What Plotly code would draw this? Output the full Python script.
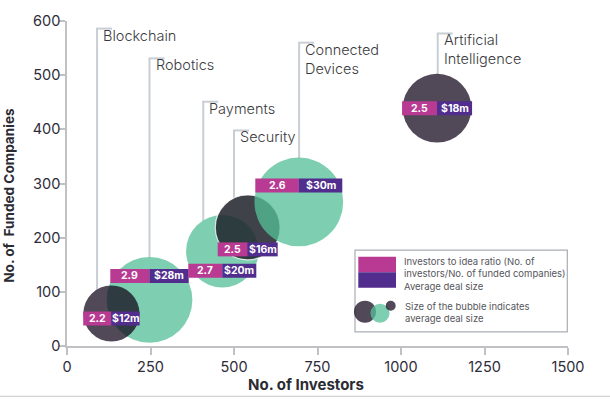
import math
import plotly.graph_objects as go

# ---------------- data ----------------
sectors = ["Blockchain", "Robotics", "Payments", "Security",
           "Connected Devices", "Artificial Intelligence"]
sector_labels = ["Blockchain", "Robotics", "Payments", "Security",
                 "Connected<br>Devices", "Artificial<br>Intelligence"]
investors = [133, 247, 465, 541, 694, 1108]          # No. of investors
funded_companies = [60, 85, 175, 219, 266, 439]      # No. of funded companies
investor_ratio = ["2.2", "2.9", "2.7", "2.5", "2.6", "2.5"]
deal_size = [12, 28, 20, 16, 30, 18]                 # average deal size, $m
x_ticks = [0, 250, 500, 750, 1000, 1250, 1500]
y_ticks = [0, 100, 200, 300, 400, 500, 600]

# ---------------- styling / layout ----------------
W, H = 610, 399
L, T = 67, 15
PW, PH = 501, 331
R, B = W - L - PW, H - T - PH
X_MAX, Y_MAX = 1500, 600
SIZEREF = 0.00762

FONT = "Inter"
DARK = "rgba(17,6,25,0.73)"
SLATE = "rgba(31,36,43,0.86)"
GREEN = "rgba(85,192,153,0.76)"
MAGENTA = "#b93a92"
PURPLE = "#512d8e"
LEADER = "#c9ced5"
AXIS = "#bfc1c5"

bubble_color = [DARK, GREEN, GREEN, SLATE, GREEN, DARK]
bubble_line_w = [0, 0, 0, 1.2, 0, 0]
draw_order = [1, 0, 2, 3, 4, 5]

label_x = [90, 247, 408, 500, 695, 1110]       # leader line positions
label_top = [586, 531, 451, 398, 560, 577]
bar_dy = [5, -24, 19.5, 22, -16.5, 0]            # bar offset from bubble centre (px, down)
bar_hw = [28.2, 39.2, 34, 30, 43.5, 35]          # bar half width (px)
BAR_H = 14


def x_px(x):
    return L + x / X_MAX * PW


def y_px(y):
    return T + (Y_MAX - y) / Y_MAX * PH


def py_to_y(py):
    return Y_MAX - (py - T) / PH * Y_MAX


# image pixel -> paper coordinates
def px_paper(px):
    return (px - L) / PW


def py_paper(py):
    return (T + PH - py) / PH


def radius(v):
    return math.sqrt(v / (2 * SIZEREF))


fig = go.Figure()

fig.add_trace(go.Scatter(
    x=[investors[i] for i in draw_order],
    y=[funded_companies[i] for i in draw_order],
    mode="markers",
    marker=dict(
        size=[deal_size[i] for i in draw_order],
        sizemode="area",
        sizeref=SIZEREF,
        color=[bubble_color[i] for i in draw_order],
        line=dict(width=[bubble_line_w[i] for i in draw_order],
                  color="rgba(255,255,255,0.75)"),
        opacity=1,
    ),
    hoverinfo="skip",
    showlegend=False,
))

shapes = []
annotations = []

for i in range(len(sectors)):
    cx, cy = x_px(investors[i]), y_px(funded_companies[i])
    r = radius(deal_size[i])
    lx = x_px(label_x[i])
    dx = lx - cx
    bottom = cy - math.sqrt(r * r - dx * dx) if abs(dx) < r else cy
    # leader line
    shapes.append(dict(type="line", xref="x", yref="y",
                       x0=label_x[i], x1=label_x[i],
                       y0=label_top[i], y1=py_to_y(bottom),
                       line=dict(color=LEADER, width=2), layer="below"))
    shapes.append(dict(type="line", xref="x", yref="y",
                       xsizemode="pixel", xanchor=label_x[i], x0=-1, x1=15,
                       y0=label_top[i], y1=label_top[i],
                       line=dict(color=LEADER, width=2), layer="below"))
    annotations.append(dict(x=label_x[i], y=label_top[i], xref="x", yref="y",
                            text=sector_labels[i], showarrow=False,
                            xanchor="left", yanchor="top", align="left",
                            xshift=4, yshift=4,
                            font=dict(family=FONT, size=14.5, color="#3a3a3e",
                                      weight=300)))
    # ratio / deal bar
    hw, dy = bar_hw[i], bar_dy[i]
    for col, x0, x1 in ((MAGENTA, -hw, 0), (PURPLE, 0, hw)):
        shapes.append(dict(type="rect", xref="x", yref="y",
                           xsizemode="pixel", xanchor=investors[i], x0=x0, x1=x1,
                           ysizemode="pixel", yanchor=funded_companies[i],
                           y0=-dy - BAR_H / 2, y1=-dy + BAR_H / 2,
                           fillcolor=col, line=dict(width=0), layer="above"))
    for txt, sh in ((investor_ratio[i], -hw / 2), (f"${deal_size[i]}m", hw / 2)):
        annotations.append(dict(x=investors[i], y=funded_companies[i],
                                xref="x", yref="y", text=txt, showarrow=False,
                                xanchor="center", yanchor="middle",
                                xshift=sh, yshift=-dy,
                                font=dict(family=FONT, size=10.5, color="white",
                                          weight="bold")))

# ---------------- legend box ----------------
shapes.append(dict(type="rect", xref="paper", yref="paper",
                   x0=px_paper(355), x1=px_paper(567.3),
                   y0=py_paper(331.7), y1=py_paper(248.3),
                   fillcolor="white", line=dict(color="#a9adb3", width=1.2)))
shapes.append(dict(type="rect", xref="paper", yref="paper",
                   x0=px_paper(358.3), x1=px_paper(396),
                   y0=py_paper(271), y1=py_paper(255),
                   fillcolor=MAGENTA, line=dict(width=0)))
shapes.append(dict(type="rect", xref="paper", yref="paper",
                   x0=px_paper(358.3), x1=px_paper(396),
                   y0=py_paper(286.7), y1=py_paper(271),
                   fillcolor=PURPLE, line=dict(width=0)))
for (cxp, cyp, rr, col) in ((365, 311, 11, DARK), (380, 312.7, 9.5, GREEN),
                            (390.7, 305, 5, DARK)):
    shapes.append(dict(type="circle", xref="paper", yref="paper",
                       xsizemode="pixel", xanchor=px_paper(cxp), x0=-rr, x1=rr,
                       ysizemode="pixel", yanchor=py_paper(cyp), y0=-rr, y1=rr,
                       fillcolor=col, line=dict(width=0)))
annotations.append(dict(x=px_paper(402.3), y=py_paper(252.5), xref="paper", yref="paper",
                        text="Investors to idea ratio (No. of<br>investors/No. of funded companies)<br>Average deal size",
                        showarrow=False, xanchor="left", yanchor="top", align="left",
                        font=dict(family=FONT, size=9.5, color="#56565c")))
annotations.append(dict(x=px_paper(402.8), y=py_paper(298.5), xref="paper", yref="paper",
                        text="Size of the bubble indicates<br>average deal size",
                        showarrow=False, xanchor="left", yanchor="top", align="left",
                        font=dict(family=FONT, size=9.5, color="#56565c")))

# bottom rule
shapes.append(dict(type="line", xref="paper", yref="paper",
                   x0=px_paper(0), x1=px_paper(W), y0=py_paper(397.3), y1=py_paper(397.3),
                   line=dict(color="#d2d2d2", width=1.2)))

# axis titles
annotations.append(dict(x=px_paper(306), y=py_paper(385.5), xref="paper", yref="paper",
                        text="No. of Investors", showarrow=False,
                        xanchor="center", yanchor="middle",
                        font=dict(family=FONT, size=15, color="#2b2b33", weight="bold")))
annotations.append(dict(x=px_paper(9.5), y=py_paper(192.5), xref="paper", yref="paper",
                        text="No. of\u00a0 Funded Companies", showarrow=False, textangle=-90,
                        xanchor="center", yanchor="middle",
                        font=dict(family=FONT, size=13.6, color="#2b2b33", weight="bold")))

fig.update_layout(
    width=W, height=H,
    margin=dict(l=L, r=R, t=T, b=B, pad=0),
    paper_bgcolor="white", plot_bgcolor="white",
    showlegend=False,
    shapes=shapes,
    annotations=annotations,
    font=dict(family=FONT, size=13, color="#2e2c3a"),
    xaxis=dict(range=[0, X_MAX], tickvals=x_ticks, showgrid=False, zeroline=False,
               showline=True, linecolor=AXIS, linewidth=1.5,
               ticks="outside", ticklen=7, tickcolor=AXIS, tickwidth=1.5,
               tickfont=dict(family=FONT, size=14.5, color="#2e2c3a")),
    yaxis=dict(range=[0, Y_MAX], tickvals=y_ticks, showgrid=False, zeroline=False,
               showline=True, linecolor=AXIS, linewidth=1.5,
               ticks="outside", ticklen=6, tickcolor=AXIS, tickwidth=1.5,
               ticklabelstandoff=-4,
               tickfont=dict(family=FONT, size=14.5, color="#2e2c3a")),
)

fig.write_html(
    "out.html",
    config={"displayModeBar": False},
    post_script="document.body.style.margin='0';document.body.style.padding='0';"
                "document.documentElement.style.overflow='hidden';",
)
